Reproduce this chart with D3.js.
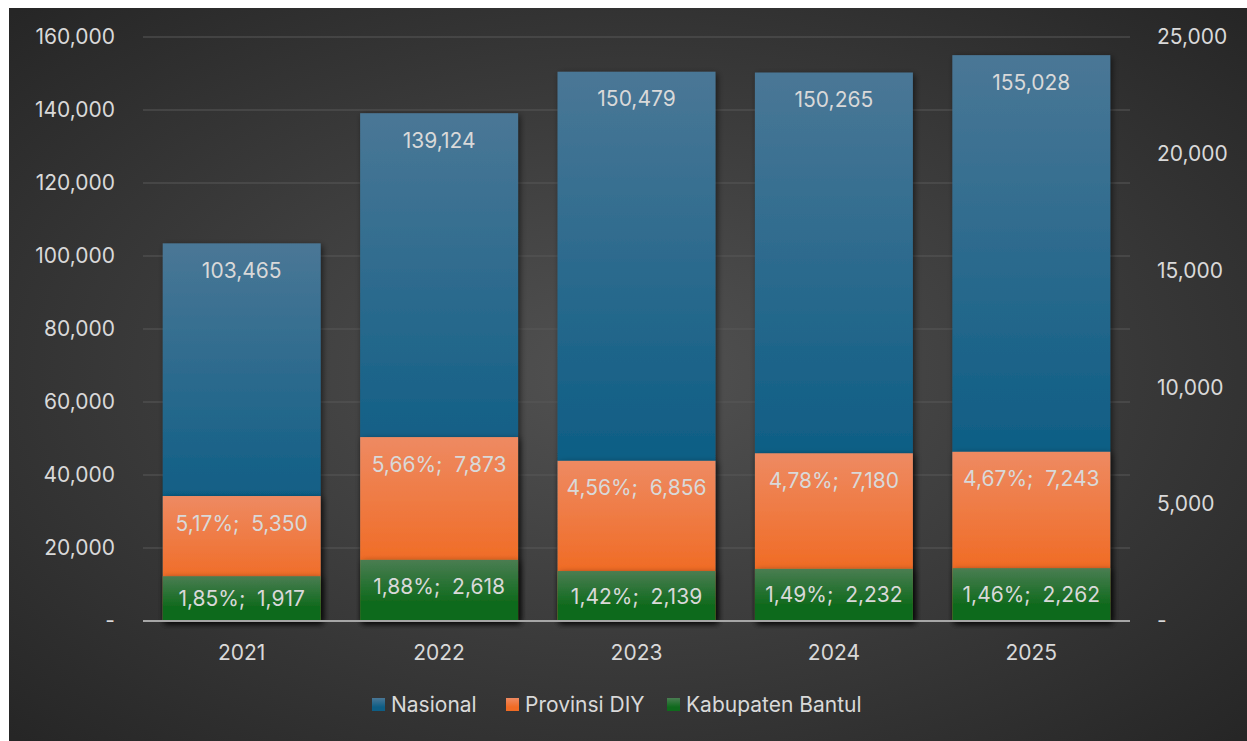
<!DOCTYPE html>
<html><head><meta charset="utf-8">
<script src="https://cdn.jsdelivr.net/npm/d3@7"></script>
<style>
html,body{margin:0;padding:0;background:#fff;}
svg{display:block;}
text{font-family:Inter,"Open Sans",sans-serif;}
</style></head>
<body>
<svg id="chart" width="1247" height="741"></svg>
<script>
const years = ["2021","2022","2023","2024","2025"];
const nasional = [103465,139124,150479,150265,155028];
const provinsi = [5350,7873,6856,7180,7243];
const bantul = [1917,2618,2139,2232,2262];
const provPct = ["5,17%","5,66%","4,56%","4,78%","4,67%"];
const bantulPct = ["1,85%","1,88%","1,42%","1,49%","1,46%"];
const leftTicks = [0,20000,40000,60000,80000,100000,120000,140000,160000];
const rightTicks = [0,5000,10000,15000,20000,25000];
const seriesNames = ["Nasional","Provinsi DIY","Kabupaten Bantul"];

const W=1247,H=741;
const FS="21px";
const m={left:143,right:1130,top:37,bottom:621};
const svg=d3.select("#chart");
const defs=svg.append("defs");

// background
const bg=defs.append("radialGradient").attr("id","bg").attr("cx","50%").attr("cy","50%").attr("r","70%");
bg.append("stop").attr("offset","0%").attr("stop-color","#525252");
bg.append("stop").attr("offset","100%").attr("stop-color","#262626");
svg.append("rect").attr("x",9).attr("y",8).attr("width",W-9).attr("height",H-8).attr("fill","url(#bg)");

function lg(id,top,bot){
  const g=defs.append("linearGradient").attr("id",id).attr("x1",0).attr("x2",0).attr("y1",0).attr("y2",1);
  g.append("stop").attr("offset","0%").attr("stop-color",top);
  g.append("stop").attr("offset","70%").attr("stop-color",bot);
  g.append("stop").attr("offset","100%").attr("stop-color",bot);
}
lg("gN","#4a7796","#0e5e85");
lg("gP","#ee8a62","#f06b24");
lg("gB","#4a7d52","#0f6a1c");
const sh=defs.append("filter").attr("id","sh").attr("x","-10%").attr("y","-10%").attr("width","130%").attr("height","130%");
sh.append("feDropShadow").attr("dx",2).attr("dy",2).attr("stdDeviation",3).attr("flood-color","#000").attr("flood-opacity",0.55);

const x=d3.scaleBand().domain(years).range([m.left,m.right]).paddingInner(0.2).paddingOuter(0.1);
const yL=d3.scaleLinear().domain([0,160000]).range([m.bottom,m.top]);
const yR=d3.scaleLinear().domain([0,25000]).range([m.bottom,m.top]);
const fmt=d3.format(",");
const txt="#d9d9d9";

// gridlines
svg.append("g").selectAll("line").data(leftTicks.slice(1)).join("line")
  .attr("x1",m.left).attr("x2",m.right).attr("y1",d=>yL(d)).attr("y2",d=>yL(d))
  .attr("stroke","#595959").attr("stroke-width",1);

// left axis
const ax=svg.append("g").attr("transform",`translate(${m.left},0)`)
  .call(d3.axisLeft(yL).tickValues(leftTicks).tickSize(0).tickPadding(28).tickFormat(d=>d===0?"-":fmt(d)));
ax.select(".domain").remove();
ax.selectAll("text").attr("fill",txt).style("font-size",FS).style("font-family","Inter,sans-serif");
const axR=svg.append("g").attr("transform",`translate(${m.right},0)`)
  .call(d3.axisRight(yR).tickValues(rightTicks).tickSize(0).tickPadding(27).tickFormat(d=>d===0?"-":fmt(d)));
axR.select(".domain").remove();
axR.selectAll("text").attr("fill",txt).style("font-size",FS).style("font-family","Inter,sans-serif");

const series=[
  {vals:nasional,scale:yL,fill:"url(#gN)",lab:(i)=>fmt(nasional[i])},
  {vals:provinsi,scale:yR,fill:"url(#gP)",lab:(i)=>provPct[i]+";\u00a0 "+fmt(provinsi[i])},
  {vals:bantul,scale:yR,fill:"url(#gB)",lab:(i)=>bantulPct[i]+";\u00a0 "+fmt(bantul[i])}
];
series.forEach(s=>{
  const g=svg.append("g");
  g.selectAll("rect").data(s.vals).join("rect")
    .attr("x",(d,i)=>x(years[i])).attr("width",x.bandwidth())
    .attr("y",d=>s.scale(d)).attr("height",d=>m.bottom-s.scale(d))
    .attr("fill",s.fill).attr("filter","url(#sh)");
});
// baseline
svg.append("line").attr("x1",m.left).attr("x2",m.right).attr("y1",m.bottom).attr("y2",m.bottom)
  .attr("stroke","#a6a6a6").attr("stroke-width",2);
series.forEach(s=>{
  svg.append("g").selectAll("text").data(s.vals).join("text")
    .attr("x",(d,i)=>x(years[i])+x.bandwidth()/2)
    .attr("y",d=>{const t=s.scale(d);return Math.min(t+27,(t+m.bottom)/2);})
    .attr("text-anchor","middle").attr("dominant-baseline","central")
    .attr("fill",txt).style("font-size",FS)
    .text((d,i)=>s.lab(i));
});

// x axis labels
svg.append("g").selectAll("text").data(years).join("text")
  .attr("x",d=>x(d)+x.bandwidth()/2).attr("y",652).attr("text-anchor","middle")
  .attr("dominant-baseline","central").attr("fill",txt).style("font-size",FS).text(d=>d);

// legend
const legCols=["url(#gN)","url(#gP)","url(#gB)"];
const legX=[372,506,667];
const lgG=svg.append("g");
seriesNames.forEach((n,i)=>{
  lgG.append("rect").attr("x",legX[i]).attr("y",698).attr("width",13).attr("height",13).attr("fill",legCols[i]);
  lgG.append("text").attr("x",legX[i]+19).attr("y",704.5).attr("dominant-baseline","central")
    .attr("fill",txt).style("font-size",FS).text(n);
});
</script>
</body></html>
